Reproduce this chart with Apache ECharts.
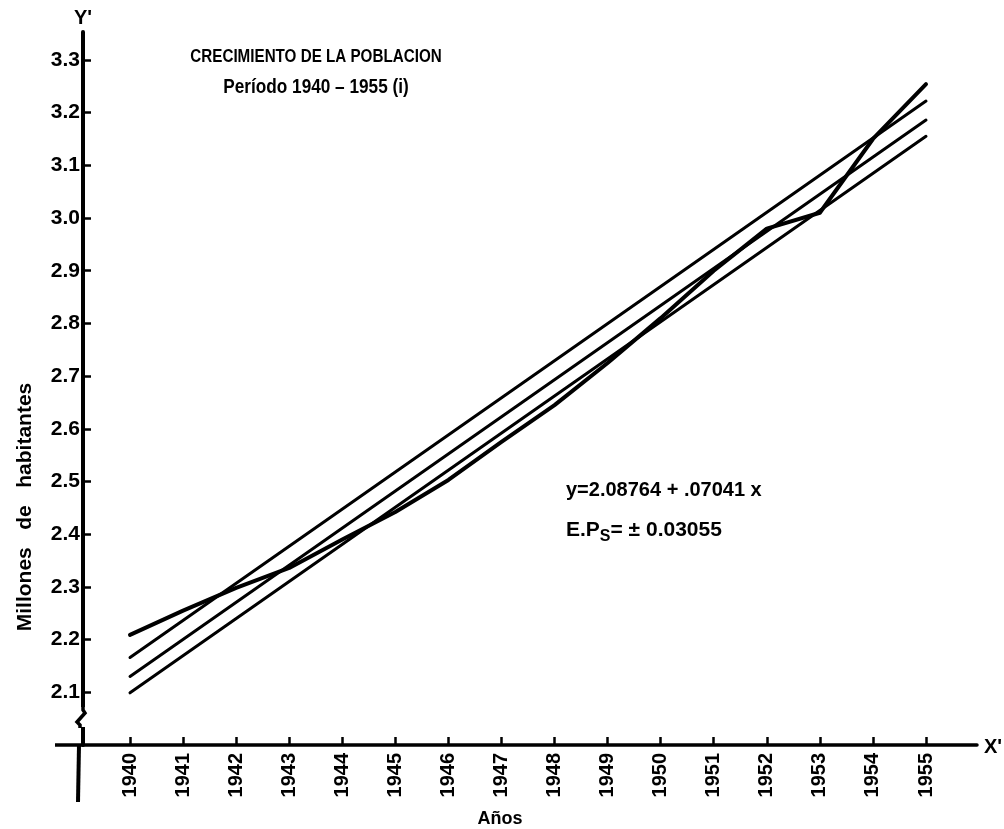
<!DOCTYPE html>
<html>
<head>
<meta charset="utf-8">
<script src="https://cdn.jsdelivr.net/npm/echarts@6/dist/echarts.min.js"></script>
<style>
  html, body { margin: 0; padding: 0; background: #fff; }
  #chart { width: 1004px; height: 829px; }
</style>
</head>
<body>
<div id="chart"></div>
<script>
// Años del período
const years = [1940, 1941, 1942, 1943, 1944, 1945, 1946, 1947, 1948, 1949, 1950, 1951, 1952, 1953, 1954, 1955];
// Población observada (millones de habitantes)
const poblacion = [2.209, 2.255, 2.298, 2.336, 2.390, 2.442, 2.503, 2.575, 2.645, 2.725, 2.810, 2.900, 2.980, 3.010, 3.150, 3.254];
// Recta de tendencia y sus límites (extremos del período)
const extremos = [1940, 1955];
const limiteSuperior = [2.166, 3.222];
const tendencia = [2.130, 3.186];
const limiteInferior = [2.099, 3.155];
// Marcas del eje vertical
const yTicks = [2.1, 2.2, 2.3, 2.4, 2.5, 2.6, 2.7, 2.8, 2.9, 3.0, 3.1, 3.2, 3.3];

const FONT = '"Liberation Sans", Arial, sans-serif';
const INK = '#000';

const chart = echarts.init(document.getElementById('chart'), null, { renderer: 'canvas' });

const pairs = (xs, ys) => xs.map((x, i) => [x, ys[i]]);

const lineSeries = (data, width) => ({
  type: 'line',
  data: data,
  symbol: 'none',
  silent: true,
  lineStyle: { color: INK, width: width, cap: 'round', join: 'round' },
  z: 3
});

const X_MIN = 1939.114, X_MAX = 1955.961, Y_MIN = 2.0, Y_MAX = 3.353;

chart.setOption({
  animation: false,
  backgroundColor: '#fff',
  grid: { left: 83, right: 27, top: 32, bottom: 84 },
  xAxis: {
    type: 'value',
    min: X_MIN,
    max: X_MAX,
    splitLine: { show: false },
    axisLine: { show: true, lineStyle: { color: INK, width: 3.5 } },
    axisTick: {
      show: true, inside: true, length: 8, customValues: years,
      lineStyle: { color: INK, width: 2.5 }
    },
    axisLabel: {
      customValues: years, rotate: 90, margin: 8,
      color: INK, fontFamily: FONT, fontWeight: 'bold', fontSize: 20,
      formatter: v => String(v)
    }
  },
  yAxis: {
    type: 'value',
    min: Y_MIN,
    max: Y_MAX,
    splitLine: { show: false },
    axisLine: { show: true, lineStyle: { color: INK, width: 4 } },
    axisTick: {
      show: true, inside: true, length: 8, customValues: yTicks,
      lineStyle: { color: INK, width: 2.5 }
    },
    axisLabel: {
      customValues: yTicks, margin: 3,
      color: INK, fontFamily: FONT, fontWeight: 'bold', fontSize: 21,
      formatter: v => v.toFixed(1)
    }
  },
  series: [
    lineSeries(pairs(extremos, limiteSuperior), 3),
    lineSeries(pairs(extremos, tendencia), 3),
    lineSeries(pairs(extremos, limiteInferior), 3),
    lineSeries(pairs(years, poblacion), 4)
  ]
});

// Elementos del dibujo: prolongaciones de los ejes, corte del eje Y y rótulos
const pOrigin = chart.convertToPixel({ gridIndex: 0 }, [X_MIN, Y_MIN]);
const pTop = chart.convertToPixel({ gridIndex: 0 }, [X_MIN, Y_MAX]);
const pRight = chart.convertToPixel({ gridIndex: 0 }, [X_MAX, Y_MIN]);
const ox = pOrigin[0], oy = pOrigin[1];
const cutY = oy - 28;

chart.setOption({
  graphic: [
    // prolongación del eje X hacia la izquierda
    { type: 'line', shape: { x1: ox - 28, y1: oy, x2: ox, y2: oy }, style: { stroke: INK, lineWidth: 3.5 }, z: 10 },
    // prolongación del eje Y por debajo del eje X
    { type: 'line', shape: { x1: ox - 4, y1: oy, x2: ox - 5, y2: oy + 57 }, style: { stroke: INK, lineWidth: 4 }, z: 10 },
    // corte del eje Y
    { type: 'rect', shape: { x: ox - 6, y: cutY - 10, width: 12, height: 20 }, style: { fill: '#fff' }, z: 11 },
    { type: 'polyline', shape: { points: [[ox, cutY - 11], [ox, cutY - 7], [ox + 2, cutY - 4], [ox - 6, cutY + 5], [ox - 3, cutY + 8], [ox - 3, cutY + 11]] },
      style: { stroke: INK, lineWidth: 3.5, fill: null }, z: 12 },
    // rótulos de los ejes
    { type: 'text', x: pTop[0], y: pTop[1] - 4, style: { text: "Y'", font: 'bold 20px ' + FONT, fill: INK, align: 'center', verticalAlign: 'bottom' }, z: 10 },
    { type: 'text', x: pRight[0] + 16, y: pRight[1] + 2, style: { text: "X'", font: 'bold 20px ' + FONT, fill: INK, align: 'center', verticalAlign: 'middle' }, z: 10 },
    { type: 'text', x: 500, y: 819, style: { text: 'Años', font: 'bold 18px ' + FONT, fill: INK, align: 'center', verticalAlign: 'middle' }, z: 10 },
    { type: 'text', x: 25, y: 507, rotation: Math.PI / 2,
      style: { text: 'Millones   de   habitantes', font: 'bold 21px ' + FONT, fill: INK, align: 'center', verticalAlign: 'middle' }, z: 10 },
    // título
    { type: 'text', x: 316, y: 57, scaleX: 0.8,
      style: { text: 'CRECIMIENTO DE LA POBLACION', font: 'bold 19px ' + FONT, fill: INK, align: 'center', verticalAlign: 'middle' }, z: 10 },
    { type: 'text', x: 316, y: 87, scaleX: 0.86,
      style: { text: 'Período 1940 – 1955 (i)', font: 'bold 20px ' + FONT, fill: INK, align: 'center', verticalAlign: 'middle' }, z: 10 },
    // ecuación de la recta y error probable
    { type: 'text', x: 566, y: 490,
      style: { text: 'y=2.08764 + .07041 x', font: 'bold 20px ' + FONT, fill: INK, align: 'left', verticalAlign: 'middle' }, z: 10 },
    { type: 'text', x: 566, y: 530,
      style: {
        text: '{a|E.P}{s|S}{a|= ± 0.03055}',
        fill: INK, align: 'left', verticalAlign: 'middle',
        rich: {
          a: { font: 'bold 21px ' + FONT, fill: INK },
          s: { font: 'bold 16px ' + FONT, fill: INK, padding: [14, 0, 0, 0] }
        }
      }, z: 10 }
  ]
});
</script>
</body>
</html>
